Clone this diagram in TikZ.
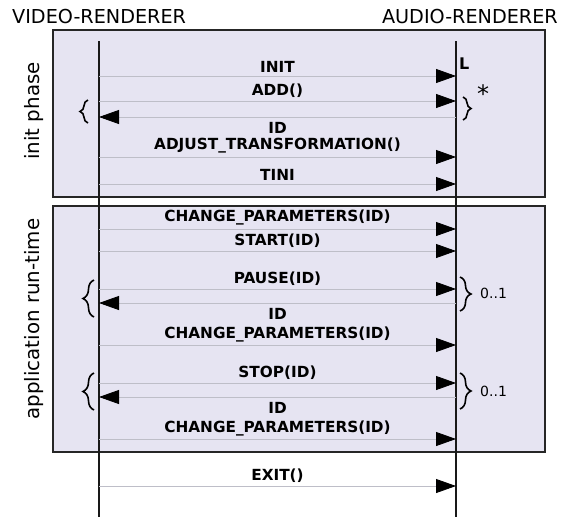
\documentclass[tikz,border=0pt]{standalone}
\usepackage{fontspec}
\setmainfont{DejaVu Sans}
\usetikzlibrary{arrows.meta,decorations.pathreplacing}
\definecolor{boxfill}{RGB}{230,228,242}
\definecolor{msggray}{RGB}{190,190,200}
\tikzset{
  phasebox/.style={draw=black!85, line width=1.6pt, fill=boxfill},
  lifeline/.style={draw=black!90, line width=1.2pt},
  msg/.style={draw=msggray, line width=0.8pt, -{Triangle[length=20pt,width=14pt,color=black]}},
  lbl/.style={font=\fontsize{15.3}{17}\selectfont\bfseries, inner sep=0pt},
  hdr/.style={font=\fontsize{19.2}{21}\selectfont, inner sep=0pt},
  side/.style={font=\fontsize{19.8}{21}\selectfont, inner sep=0pt, rotate=90},
  brc/.style={decorate, decoration={brace, amplitude=#1}, line width=1.6pt},
  mult/.style={font=\fontsize{14}{16}\selectfont, inner sep=0pt, anchor=west}
}
\begin{document}
\begin{tikzpicture}[x=1pt,y=-1pt]
\useasboundingbox (0,0) rectangle (569,517);
% boxes
\path[phasebox] (53,30) rectangle (545,197);
\path[phasebox] (53,206) rectangle (545,452);
% headers
\node[hdr, anchor=base west] (vr) at (12,23) {VIDEO-RENDERER};
\node[hdr, anchor=base east] (ar) at (558,23) {AUDIO-RENDERER};
% side labels
\node[side] (ip) at (34,111) {init phase};
\node[side] (art) at (34,319) {application run-time};
% lifelines
\coordinate (vtop) at (99,41);
\coordinate (vbot) at (99,517);
\coordinate (atop) at (456,41);
\coordinate (abot) at (456,517);
\draw[lifeline] (vtop) -- (vbot);
\draw[lifeline] (atop) -- (abot);
% messages
\foreach \n/\y in {m1/76,m2/101,m3/117,m4/157,m5/184,m6/229,m7/251,m8/289,m9/303,m10/345,m11/383,m12/397,m13/439,m14/486}{
  \coordinate (v\n) at (99,\y);
  \coordinate (a\n) at (456,\y);
}
\draw[msg] (vm1) -- (am1) node[lbl, midway, above=3pt] {INIT};
\draw[msg] (vm2) -- (am2) node[lbl, midway, above=3pt] {ADD()};
\draw[msg] (am3) -- (vm3) node[lbl, midway, below=5pt] {ID};
\draw[msg] (vm4) -- (am4) node[lbl, midway, above=3pt] {ADJUST\_TRANSFORMATION()};
\draw[msg] (vm5) -- (am5) node[lbl, midway, above=3pt] {TINI};
\draw[msg] (vm6) -- (am6) node[lbl, midway, above=3pt] {CHANGE\_PARAMETERS(ID)};
\draw[msg] (vm7) -- (am7) node[lbl, midway, above=3pt] {START(ID)};
\draw[msg] (vm8) -- (am8) node[lbl, midway, above=3pt] {PAUSE(ID)};
\draw[msg] (am9) -- (vm9) node[lbl, midway, below=5pt] {ID};
\draw[msg] (vm10) -- (am10) node[lbl, midway, above=3pt] {CHANGE\_PARAMETERS(ID)};
\draw[msg] (vm11) -- (am11) node[lbl, midway, above=3pt] {STOP(ID)};
\draw[msg] (am12) -- (vm12) node[lbl, midway, below=5pt] {ID};
\draw[msg] (vm13) -- (am13) node[lbl, midway, above=3pt] {CHANGE\_PARAMETERS(ID)};
\draw[msg] (vm14) -- (am14) node[lbl, midway, above=3pt] {EXIT()};
% L and *
\node[font=\fontsize{16}{18}\selectfont\bfseries, inner sep=0pt, anchor=north west] (L) at (459,58) {L};
\node[font=\fontsize{24}{26}\selectfont, inner sep=0pt] (star) at (483,94) {*};
% braces
\coordinate (b1a) at (88,123); \coordinate (b1b) at (88,100);
\draw[brc=8pt] (b1a) -- (b1b);
\coordinate (b2a) at (463,97); \coordinate (b2b) at (463,120);
\draw[brc=8pt] (b2a) -- (b2b);
\coordinate (b3a) at (94,317); \coordinate (b3b) at (94,280);
\draw[brc=11pt] (b3a) -- (b3b);
\coordinate (b4a) at (460,277); \coordinate (b4b) at (460,311);
\draw[brc=11pt] (b4a) -- (b4b);
\node[mult] (o1) at (480,293) {0..1};
\coordinate (b5a) at (94,410); \coordinate (b5b) at (94,373);
\draw[brc=11pt] (b5a) -- (b5b);
\coordinate (b6a) at (460,373); \coordinate (b6b) at (460,409);
\draw[brc=11pt] (b6a) -- (b6b);
\node[mult] (o2) at (480,391) {0..1};
\end{tikzpicture}
\end{document}
